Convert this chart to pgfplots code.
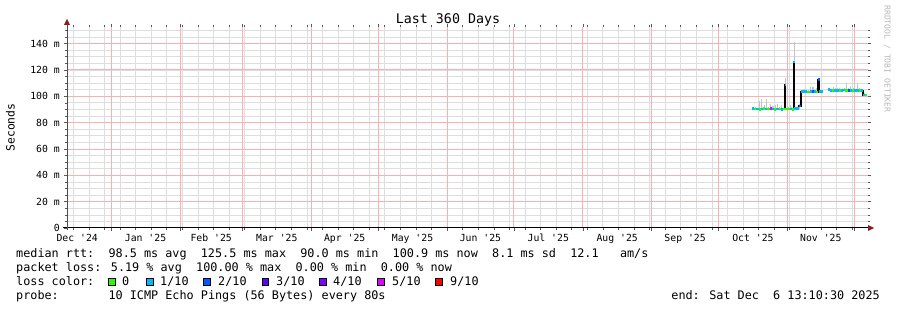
\documentclass[border=0pt]{standalone}
\usepackage{pgfplots}
\usepackage{pgfplotstable}
\pgfplotsset{compat=1.18}
\usepackage{fontspec}
\setmainfont{DejaVu Sans Mono}
\definecolor{lossgreen}{HTML}{26FF00}
\definecolor{losscyan}{HTML}{00B8FF}
\definecolor{lossblue}{HTML}{0059FF}
\definecolor{lossthree}{HTML}{5E00FF}
\definecolor{lossfour}{HTML}{7E00FF}
\definecolor{lossfive}{HTML}{DD00FF}
\definecolor{lossnine}{HTML}{FF0000}
\definecolor{arrowred}{HTML}{8B1E1E}
\definecolor{smoke}{HTML}{C4C4C4}
\definecolor{mgrid}{HTML}{F5B2B2}
\definecolor{ngrid}{HTML}{DEDEDE}
\newcommand\q{\textquotesingle}

\pgfplotstableread{
x y
319 90.6
320 90.2
321 90.4
322 90.0
323 90.3
324 90.5
325 90.2
326 90.4
327 90.8
328 90.3
329 90.1
330 90.4
331 90.2
332 90.0
333 90.3
333.8 108.5
334.2 90.2
335 90.2
336 90.4
337 90.0
337.8 126.0
338.2 90.6
339 90.6
340 92.5
341 103.4
342 103.6
343 103.4
344 103.2
345 103.5
346 103.7
347 103.4
348 103.3
348.8 112.8
349.2 103.6
350 103.6
351 nan
352 nan
353 105.0
354 104.2
355 104.5
356 104.3
357 104.1
358 104.4
359 104.3
360 104.6
361 104.2
362 104.5
363 104.3
364 104.4
365 104.2
366 104.5
367 104.3
368 104.4
369 101.0
370 101.0
370.6 101.0
}\median

\pgfplotstableread{
x lo ep
319.5 89.8 1.7
320.5 89.4 2.6
321.5 89.6 1.4
322.5 89.2 6.8
323.5 89.5 8.5
324.5 89.7 3.3
325.5 89.4 8.6
326.5 89.6 2.4
327.5 90.0 4.0
328.5 89.5 3.0
329.5 89.3 4.2
330.5 89.6 4.4
331.5 89.4 2.6
332.5 89.2 3.8
333.5 89.5 3.0
334.0 89.5 24.1
335.5 89.4 2.6
336.5 89.6 3.4
337.0 89.2 2.8
338.0 89.5 51.5
339.5 89.8 2.2
340.5 90.5 3.5
341.5 102.6 2.4
342.5 102.8 2.7
343.5 102.6 2.4
344.5 102.4 2.6
345.5 102.7 4.3
346.5 102.9 4.1
347.5 102.6 2.4
348.0 102.5 3.5
349.0 102.5 11.5
350.5 102.8 2.2
353.5 104.2 2.3
354.5 103.4 2.1
355.5 103.7 3.3
356.5 103.5 2.5
357.5 103.3 2.7
358.5 103.6 2.9
359.5 103.5 2.0
360.5 103.8 2.2
361.5 103.4 6.6
362.5 103.7 2.3
363.5 103.5 4.5
364.5 103.6 2.4
365.5 103.4 2.1
366.5 103.7 6.3
367.5 103.5 3.0
368.5 103.6 1.9
369.5 100.2 2.3
370.3 100.2 1.8
}\smokedata

\pgfplotstableread{
x y
320.5 90.2
322.5 90.0
324.5 90.5
326.5 90.4
329.5 90.1
331.5 90.2
333.4 90.3
334.6 90.2
335.5 90.2
337.4 90.0
344.5 103.2
348.4 103.3
355.5 104.5
358.5 104.4
361.5 104.2
364.5 104.4
367.5 104.3
370.3 101.0
}\greenseg

\pgfplotstableread{
x y
319.5 90.6
321.5 90.4
323.5 90.3
325.5 90.2
328.5 90.3
330.5 90.4
332.5 90.0
336.5 90.4
338.6 90.6
339.5 90.6
341.5 103.4
342.5 103.6
343.5 103.4
345.5 103.5
347.5 103.4
349.6 103.6
350.5 103.6
353.5 105.0
354.5 104.2
356.5 104.3
357.5 104.1
359.5 104.3
360.5 104.6
363.5 104.3
365.5 104.2
366.5 104.5
368.5 104.4
369.5 101.0
}\cyanseg

\pgfplotstableread{
x y
340.5 92.5
346.5 103.7
362.5 104.5
}\blueseg

\pgfplotstableread{
x y
327.5 90.8
}\magseg

\pgfplotstableread{
x y
334.0 108.5
338.0 126.0
}\cyantops

\pgfplotstableread{
x y
349.0 112.8
}\bluetops

\begin{document}
\begin{tikzpicture}[x=1pt,y=1pt]
\fill[white] (0,0) rectangle (897,310);
\useasboundingbox (0,0) rectangle (897,310);
\begin{axis}[
  at={(67pt,82pt)}, anchor=south west, scale only axis,
  width=801pt, height=201.3pt,
  xmin=11.2, xmax=371.2, ymin=0, ymax=152.7,
  unbounded coords=jump,
  axis line style={draw=none},
  clip=true,
  tick align=outside,
  major tick length=3pt, minor tick length=2pt,
  tick style={gray!70!black, line width=0.5pt},
  xtick={31,62,90,121,151,182,212,243,274,304,335,365},
  xticklabels={},
  minor xtick={14,21,...,364},
  extra x ticks={15.8,46.5,76,105.5,136,166.5,197,227.5,258.5,289,319.5,350},
  extra x tick labels={Dec \q24,Jan \q25,Feb \q25,Mar \q25,Apr \q25,May \q25,Jun \q25,Jul \q25,Aug \q25,Sep \q25,Oct \q25,Nov \q25},
  extra x tick style={grid=none, major tick length=0pt,
     tick label style={anchor=base, inner sep=0pt, yshift=-14pt}},
  ytick={0,20,...,140},
  yticklabels={0,20 m,40 m,60 m,80 m,100 m,120 m,140 m},
  minor ytick={5,10,...,150},
  yticklabel style={inner sep=0pt, xshift=-4pt},
  tick label style={font=\fontsize{9.8}{11}\selectfont},
  xmajorgrids=false, ymajorgrids=false, xminorgrids=true, yminorgrids=true,
  minor grid style={draw=ngrid, line width=0.6pt, solid},
]
\pgfplotsinvokeforeach{31,62,90,121,151,182,212,243,274,304,335,365}{
  \draw[draw=mgrid, line width=0.7pt, solid] (axis cs:#1,0) -- (axis cs:#1,152.7);
}
\pgfplotsinvokeforeach{20,40,60,80,100,120,140}{
  \draw[draw=mgrid, line width=0.7pt, solid] (axis cs:11.2,#1) -- (axis cs:371.2,#1);
}
\addplot[draw=none, forget plot, error bars/.cd, y dir=plus, y explicit, error mark=none,
  error bar style={line width=1.1pt, draw=smoke, solid}]
  table[x=x, y=lo, y error=ep] {\smokedata};
\addplot[black, line width=1.5pt, const plot, forget plot] table[x=x,y=y] {\median};
\addplot[draw=none, forget plot, error bars/.cd, x dir=both, x fixed=0.5, error mark=none,
  error bar style={line width=2.6pt, draw=lossgreen, solid}]
  table[x=x,y=y] {\greenseg};
\addplot[draw=none, forget plot, error bars/.cd, x dir=both, x fixed=0.5, error mark=none,
  error bar style={line width=2.6pt, draw=losscyan, solid}]
  table[x=x,y=y] {\cyanseg};
\addplot[draw=none, forget plot, error bars/.cd, x dir=both, x fixed=0.5, error mark=none,
  error bar style={line width=2.6pt, draw=lossblue, solid}]
  table[x=x,y=y] {\blueseg};
\addplot[draw=none, forget plot, error bars/.cd, x dir=both, x fixed=0.5, error mark=none,
  error bar style={line width=2.6pt, draw=lossfive, solid}]
  table[x=x,y=y] {\magseg};
\addplot[draw=none, forget plot, error bars/.cd, x dir=both, x fixed=0.3, error mark=none,
  error bar style={line width=2.6pt, draw=losscyan, solid}]
  table[x=x,y=y] {\cyantops};
\addplot[draw=none, forget plot, error bars/.cd, x dir=both, x fixed=0.3, error mark=none,
  error bar style={line width=2.6pt, draw=lossblue, solid}]
  table[x=x,y=y] {\bluetops};
\end{axis}
% axis lines with arrows
\draw[black, line width=1pt] (63,82) -- (869,82);
\fill[arrowred] (868,79) -- (874,82) -- (868,85) -- cycle;
\draw[gray!60!black, line width=1pt] (67,80) -- (67,286);
\fill[arrowred] (64,285) -- (67,291) -- (70,285) -- cycle;
% title and labels
\node[anchor=base, inner sep=0pt, font=\fontsize{13.3}{16}\selectfont] at (448,286) {Last 360 Days};
\node[anchor=base, rotate=90, inner sep=0pt, font=\fontsize{11.4}{13}\selectfont] at (14.5,182.5) {Seconds};
\node[anchor=base, rotate=-90, inner sep=0pt, text=gray!55, font=\fontsize{8.1}{10}\selectfont] at (884.5,251) {RRDTOOL / TOBI OETIKER};
% legend text
\begin{scope}[every node/.style={inner sep=0pt, font=\fontsize{11.8}{14}\selectfont}]
\node[anchor=base west] at (16,52) {median rtt:~~98.5 ms avg~~125.5 ms max~~90.0 ms min~~100.9 ms now~~8.1 ms sd~~12.1~~~am/s};
\node[anchor=base west] at (16,38) {packet loss: 5.19 \% avg~~100.00 \% max~~0.00 \% min~~0.00 \% now};
\node[anchor=base west] at (16,24) {loss color:};
\filldraw[fill=lossgreen, draw=black, line width=0.5pt] (108.5,25) rectangle (115,31.5);
\node[anchor=base west] at (122,24) {0};
\filldraw[fill=losscyan, draw=black, line width=0.5pt] (146.5,25) rectangle (153,31.5);
\node[anchor=base west] at (160,24) {1/10};
\filldraw[fill=lossblue, draw=black, line width=0.5pt] (203.5,25) rectangle (210,31.5);
\node[anchor=base west] at (218,24) {2/10};
\filldraw[fill=lossthree, draw=black, line width=0.5pt] (262,25) rectangle (268.5,31.5);
\node[anchor=base west] at (276,24) {3/10};
\filldraw[fill=lossfour, draw=black, line width=0.5pt] (319.5,25) rectangle (326,31.5);
\node[anchor=base west] at (333,24) {4/10};
\filldraw[fill=lossfive, draw=black, line width=0.5pt] (377.5,25) rectangle (384,31.5);
\node[anchor=base west] at (392,24) {5/10};
\filldraw[fill=lossnine, draw=black, line width=0.5pt] (435.5,25) rectangle (442,31.5);
\node[anchor=base west] at (450,24) {9/10};
\node[anchor=base west] at (16,10) {probe:~~~~~~~10 ICMP Echo Pings (56 Bytes) every 80s};
\node[anchor=base east] at (880,10) {end: Sat Dec~~6 13:10:30 2025};
\end{scope}
\end{tikzpicture}
\end{document}
